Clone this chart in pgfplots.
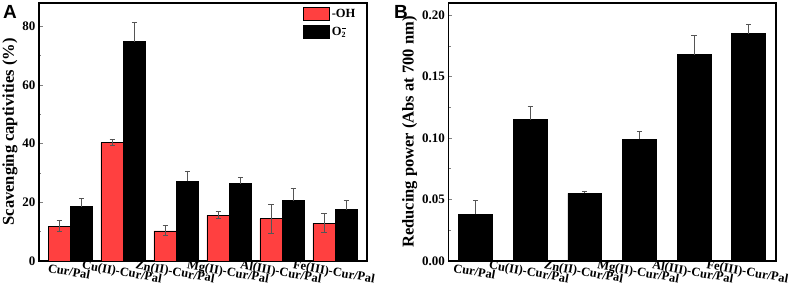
\documentclass[border=0pt]{standalone}
\usepackage{pgfplots}
\pgfplotsset{compat=1.18}
\usepackage{fontspec}
\setmainfont{Liberation Serif}
\newfontfamily\arialfont{Liberation Sans}
\definecolor{barred}{RGB}{255,64,64}
\definecolor{errgray}{RGB}{85,85,85}
\begin{document}
\begin{tikzpicture}
\path[use as bounding box, fill=white] (0,0) rectangle (809pt,289pt);
\pgfplotsset{
  common/.style={
    scale only axis, width=328pt, height=258pt, anchor=south west,
    axis line style={line width=1.1pt},
    ytick pos=left, xtick pos=bottom,
    tick align=inside,
    major tick length=4pt, minor tick length=2.5pt,
    xtick style={draw=none},
    ytick style={line width=0.8pt},
    /pgf/number format/assume math mode=true,
    yticklabel style={font=\bfseries\fontsize{13}{13}\selectfont},
    xticklabel style={font=\bfseries\fontsize{12.5}{12.5}\selectfont, rotate=-10, anchor=north, inner sep=2pt},
    ylabel style={font=\bfseries\fontsize{16.5}{16.5}\selectfont, yshift=-2pt},
    xtick={0,1,2,3,4,5},
    xticklabels={Cur/Pal,Cu(II)-Cur/Pal,Zn(II)-Cur/Pal,Mg(II)-Cur/Pal,Al(III)-Cur/Pal,Fe(III)-Cur/Pal},
    ymin=0,
    clip=false,
  },
  errs/.style={error bars/.cd, y dir=#1, y explicit,
    error bar style={errgray, line width=0.7pt},
    error mark options={rotate=90, errgray, mark size=2.6pt, line width=0.7pt}},
}
\begin{axis}[common, at={(39pt,28pt)},
  xmin=-0.59, xmax=5.6, ymax=88,
  ytick={0,20,40,60,80}, minor ytick={10,30,50,70},
  ylabel={Scavenging captivities (\%)},
  ybar, bar width=0.42,
  legend image code/.code={\draw[#1] (0pt,-6.5pt) rectangle (26pt,6.5pt);},
  legend style={draw=none, fill=none, at={(0.805,0.985)}, anchor=north west, inner sep=0pt,
    row sep=4pt, font=\bfseries\fontsize{12.5}{12.5}\selectfont,
    /tikz/every even column/.append style={column sep=0pt}},
  legend cell align=left,
]
\addplot[fill=barred, draw=black, line width=0.6pt, bar shift=-0.21, errs=both]
  coordinates {(0,11.9) +- (0,1.9) (1,40.4) +- (0,1.1) (2,10.3) +- (0,1.7)
               (3,15.6) +- (0,1.2) (4,14.4) +- (0,5.0) (5,12.9) +- (0,3.2)};
\addlegendentry{-OH}
\addplot[fill=black, draw=black, line width=0.6pt, bar shift=0.21, errs=plus]
  coordinates {(0,18.5) +- (0,2.8) (1,74.8) +- (0,6.7) (2,27.2) +- (0,3.5)
               (3,26.4) +- (0,2.1) (4,20.6) +- (0,4.1) (5,17.5) +- (0,3.2)};
\addlegendentry{O\rlap{\kern0.5pt\raisebox{1.15ex}{\rule{3.5pt}{1pt}}}\raisebox{-0.45ex}{\fontsize{8}{8}\selectfont\bfseries 2}}
\end{axis}
\begin{axis}[common, at={(448.3pt,28pt)}, width=327.7pt,
  xmin=-0.5, xmax=5.5, ymax=0.21,
  ytick={0,0.05,0.10,0.15,0.20}, minor ytick={0.025,0.075,0.125,0.175},
  scaled y ticks=false,
  yticklabel style={/pgf/number format/.cd, fixed, fixed zerofill, precision=2},
  ylabel={Reducing power (Abs at 700 nm)},
  ybar, bar width=0.62,
]
\addplot[fill=black, draw=black, line width=0.6pt, bar shift=0, errs=plus]
  coordinates {(0,0.038) +- (0,0.011) (1,0.115) +- (0,0.011) (2,0.055) +- (0,0.002)
               (3,0.099) +- (0,0.0065) (4,0.168) +- (0,0.0155) (5,0.185) +- (0,0.0075)};
\end{axis}
\node[anchor=north west, inner sep=0pt, font=\arialfont\bfseries\fontsize{19}{19}\selectfont] at (3pt,284pt) {A};
\node[anchor=north west, inner sep=0pt, font=\arialfont\bfseries\fontsize{19}{19}\selectfont] at (394pt,284pt) {B};
\end{tikzpicture}
\end{document}
